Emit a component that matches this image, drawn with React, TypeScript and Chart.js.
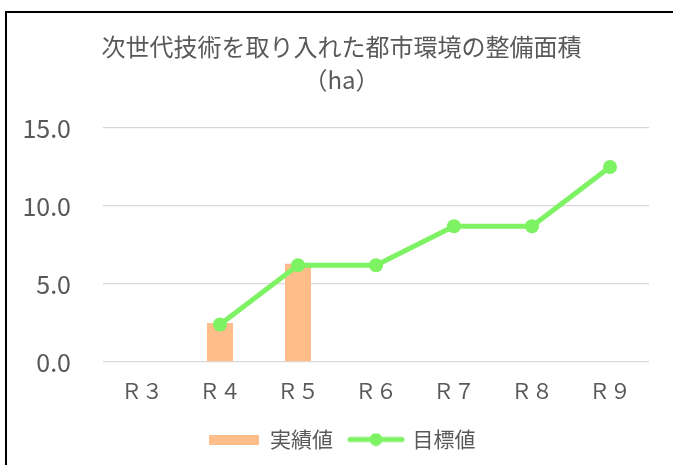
import { useEffect, useRef } from "react";
import { Chart, registerables } from "chart.js";

Chart.register(...registerables);

const categories = ["Ｒ３", "Ｒ４", "Ｒ５", "Ｒ６", "Ｒ７", "Ｒ８", "Ｒ９"];
const actualValues = [null, 2.5, 6.3, null, null, null, null];
const targetValues = [null, 2.4, 6.2, 6.2, 8.7, 8.7, 12.5];
const yTicks = [0, 5, 10, 15];
const titleLines = ["次世代技術を取り入れた都市環境の整備面積", "（ha）"];
const seriesNames = ["実績値", "目標値"];

const BAR = "#FFBD8A";
const LINE = "#7DF262";
const TEXT = "#595959";
const FONT = "'Noto Sans CJK JP', 'Noto Sans', sans-serif";

function makeBarIcon() {
  const c = document.createElement("canvas");
  c.width = 50;
  c.height = 10;
  const g = c.getContext("2d")!;
  g.fillStyle = BAR;
  g.fillRect(0, 0, 50, 10);
  return c;
}

function makeLineIcon() {
  const c = document.createElement("canvas");
  c.width = 58;
  c.height = 14;
  const g = c.getContext("2d")!;
  g.strokeStyle = LINE;
  g.lineWidth = 5;
  g.lineCap = "round";
  g.beginPath();
  g.moveTo(3, 7);
  g.lineTo(55, 7);
  g.stroke();
  g.fillStyle = LINE;
  g.beginPath();
  g.arc(29, 7, 6.5, 0, Math.PI * 2);
  g.fill();
  return c;
}

export default function App() {
  const ref = useRef<HTMLCanvasElement | null>(null);

  useEffect(() => {
    if (!ref.current) return;
    const icons = [makeBarIcon(), makeLineIcon()];
    const chart = new Chart(ref.current, {
      type: "bar",
      data: {
        labels: categories,
        datasets: [
          {
            type: "bar",
            label: seriesNames[0],
            data: actualValues,
            backgroundColor: BAR,
            borderWidth: 0,
            barPercentage: 0.333,
            categoryPercentage: 1,
            order: 1,
          } as any,
          {
            type: "line",
            label: seriesNames[1],
            data: targetValues,
            borderColor: LINE,
            backgroundColor: LINE,
            borderWidth: 5,
            pointRadius: 7,
            pointBackgroundColor: LINE,
            pointBorderWidth: 0,
            tension: 0,
            order: 0,
          } as any,
        ],
      },
      options: {
        animation: false,
        responsive: false,
        layout: { padding: 0 },
        plugins: {
          tooltip: { enabled: false },
          title: {
            display: true,
            text: titleLines,
            color: TEXT,
            font: { family: FONT, size: 24, weight: "normal", lineHeight: 1.375 },
            padding: { top: 17.5, bottom: 31.5 },
          },
          legend: {
            position: "bottom",
            labels: {
              usePointStyle: true,
              pointStyleWidth: 52,
              padding: 17,
              color: TEXT,
              font: { family: FONT, size: 21 },
              generateLabels: (c: any) =>
                c.data.datasets.map((ds: any, i: number) => ({
                  text: ds.label,
                  pointStyle: icons[i],
                  fillStyle: "transparent",
                  strokeStyle: "transparent",
                  lineWidth: 0,
                  fontColor: TEXT,
                  hidden: !c.isDatasetVisible(i),
                  datasetIndex: i,
                })),
            },
          },
        },
        scales: {
          x: {
            grid: { display: false },
            border: { display: false },
            ticks: {
              color: TEXT,
              font: { family: FONT, size: 21 },
              padding: 8,
            },
            afterFit: (s: any) => {
              s.height = 50;
            },
          },
          y: {
            min: 0,
            max: 15,
            grid: { color: "#D9D9D9", lineWidth: 1.3, drawTicks: false },
            border: { display: false },
            ticks: {
              color: TEXT,
              font: { family: FONT, size: 25 },
              padding: 32,
              callback: (v: any) => Number(v).toFixed(1),
            },
            afterBuildTicks: (s: any) => {
              s.ticks = yTicks.map((v) => ({ value: v }));
            },
            afterFit: (s: any) => {
              s.width = 96;
            },
          },
          y2: {
            type: "linear",
            position: "right",
            display: true,
            grid: { display: false },
            border: { display: false },
            ticks: { display: false },
            afterFit: (s: any) => {
              s.width = 27;
            },
          },
        },
      } as any,
    });
    return () => chart.destroy();
  }, []);

  return (
    <div style={{ position: "fixed", inset: 0, overflow: "hidden", background: "#fff" }}>
      <div
        style={{
          position: "absolute",
          left: 5,
          top: 11,
          width: 672,
          height: 470,
          borderLeft: "2px solid #000",
          borderTop: "2px solid #000",
          boxSizing: "border-box",
        }}
      >
        <canvas ref={ref} width={669} height={447} style={{ display: "block" }} />
      </div>
    </div>
  );
}
